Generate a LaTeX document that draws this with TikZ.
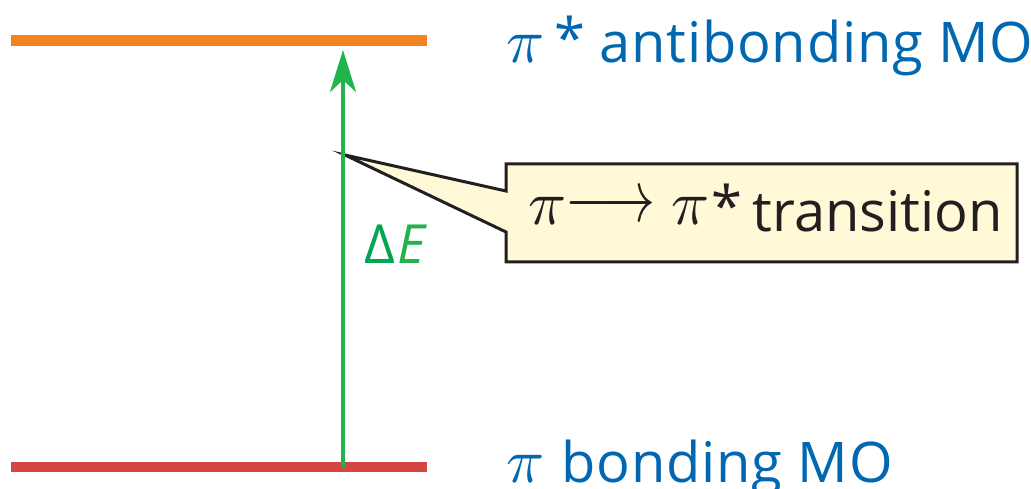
\documentclass[tikz,border=0pt]{standalone}
\usepackage{fontspec}
\setmainfont{Open Sans}
\newfontfamily\labfont[LetterSpace=1.5]{Open Sans}
\usetikzlibrary{arrows.meta}
\definecolor{orangeMO}{RGB}{245,130,32}
\definecolor{redMO}{RGB}{214,69,65}
\definecolor{greenArr}{RGB}{34,180,76}
\definecolor{greenTxt}{RGB}{0,166,81}
\definecolor{blueTxt}{RGB}{0,103,177}
\definecolor{callFill}{RGB}{255,249,215}
\definecolor{callLine}{RGB}{35,31,32}
\tikzset{
  level/.style={line width=10.5pt},
  molabel/.style={anchor=base west, inner sep=0pt, text=blueTxt, font=\labfont\fontsize{56}{62}\selectfont},
  callout/.style={fill=callFill, draw=callLine, line width=3pt, line join=miter},
  calltext/.style={anchor=base west, inner sep=0pt, text=callLine, font=\fontsize{56}{62}\selectfont},
}
\newcommand{\piit}{\scalebox{6.3}{\fontsize{10}{12}\selectfont$\pi$}}
\newcommand{\larr}{\scalebox{5.6}[7.4]{\fontsize{10}{12}\selectfont$\longrightarrow$}}
\begin{document}
\begin{tikzpicture}[x=1pt,y=-1pt]
\useasboundingbox (0,0) rectangle (1031,489);
% energy levels
\draw[level, orangeMO] (11,40.5) -- (427,40.5);
\draw[level, redMO] (11,467) -- (427,467);
\coordinate (lo) at (343,467);
\coordinate (hi) at (343,50);
\coordinate (tip) at (345,155);
% callout
\draw[callout] (506,164) -- (1017,164) -- (1017,262) -- (506,262) -- (506,232) -- (tip) -- (506,191) -- cycle;
\node[calltext] (trans) at (528,232) {\raisebox{7pt}{\piit}\kern-1pt\raisebox{10pt}{\larr}\kern16pt\raisebox{7pt}{\piit}\kern2pt\raisebox{5pt}{*}\kern10pt transition};
% arrow
\draw[greenArr, line width=4pt, -{Stealth[length=42pt,width=26pt,inset=12pt]}] (lo) -- (hi);
\node[anchor=base west, inner sep=0pt, font=\fontsize{54}{60}\selectfont] (dE) at (364,263) {\textcolor{greenTxt}{Δ}\kern2pt\textcolor{greenArr}{\itshape E}};
% labels
\node[molabel] (anti) at (506,63) {\piit\kern10pt\raisebox{4pt}{*}\kern14pt antibonding MO};
\node[molabel] (bond) at (506,482) {\piit\kern17pt bonding MO};
\end{tikzpicture}
\end{document}
